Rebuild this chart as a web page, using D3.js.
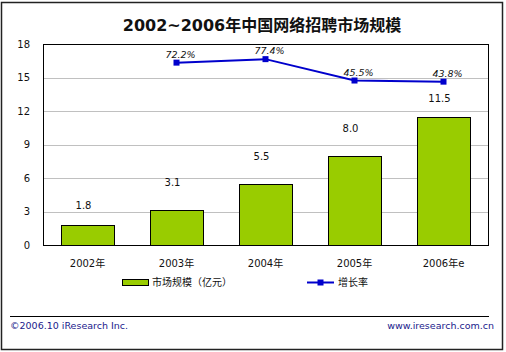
<!DOCTYPE html>
<html>
<head>
<meta charset="utf-8">
<script src="https://cdn.jsdelivr.net/npm/d3@7"></script>
<style>
  body { margin: 0; background: #fff; }
  text { font-family: "DejaVu Sans", "Noto Sans CJK SC", sans-serif; }
</style>
</head>
<body>
<svg id="chart" width="506" height="352"></svg>
<script>
// chart data
const years = ["2002年", "2003年", "2004年", "2005年", "2006年e"];
const marketSize = [1.8, 3.1, 5.5, 8.0, 11.5];
const growthYears = ["2003年", "2004年", "2005年", "2006年e"];
const growthRate = [72.2, 77.4, 45.5, 43.8];
const yTicks = [0, 3, 6, 9, 12, 15, 18];

// value labels sit at slightly different heights in the original
const labelLift = [20, 28, 28, 28, 19];

const svg = d3.select("#chart");
const plotLeft = 43, plotRight = 488, plotTop = 44, plotBottom = 245;

// outer frame
svg.append("rect")
    .attr("x", 1.5).attr("y", 2.5)
    .attr("width", 501).attr("height", 347)
    .attr("fill", "#fff")
    .attr("stroke", "#222")
    .attr("stroke-width", 1.5);

// title
svg.append("text")
    .attr("x", 262).attr("y", 31)
    .attr("text-anchor", "middle")
    .attr("font-size", 16)
    .attr("font-weight", "bold")
    .attr("fill", "#111")
    .text("2002~2006年中国网络招聘市场规模");

const x = d3.scaleBand()
    .domain(years)
    .range([plotLeft, plotRight])
    .paddingInner(0.41)
    .paddingOuter(0.205);

// x center of each category
const xc = d => x(d) + x.bandwidth() / 2;

const y = d3.scaleLinear().domain([0, 18]).range([plotBottom, plotTop]);
// hidden secondary axis for the growth line
const y2 = d3.scaleLinear().domain([-200, 100]).range([plotBottom, plotTop]);

// gridlines
svg.append("g")
    .selectAll("line")
    .data(yTicks.filter(t => t > 0 && t < 18))
    .join("line")
    .attr("x1", plotLeft).attr("x2", plotRight)
    .attr("y1", d => Math.round(y(d)) + 0.5)
    .attr("y2", d => Math.round(y(d)) + 0.5)
    .attr("stroke", "#c0c0c0");

// y axis labels
const yAxis = d3.axisLeft(y).tickValues(yTicks).tickSize(0).tickPadding(13);
const yG = svg.append("g")
    .attr("transform", `translate(${plotLeft},0)`)
    .call(yAxis);
yG.select(".domain").remove();
yG.selectAll("text").attr("font-size", 10).attr("fill", "#111")
    .style("font-family", "DejaVu Sans, sans-serif");

// bars
svg.append("g")
    .selectAll("rect")
    .data(marketSize)
    .join("rect")
    .attr("x", (d, i) => Math.round(x(years[i])) + 0.5)
    .attr("y", d => Math.round(y(d)) + 0.5)
    .attr("width", Math.round(x.bandwidth()))
    .attr("height", d => plotBottom - Math.round(y(d)))
    .attr("fill", "#99cc00")
    .attr("stroke", "#000")
    .attr("stroke-width", 1);

// plot frame
svg.append("rect")
    .attr("x", plotLeft + 0.5).attr("y", plotTop + 0.5)
    .attr("width", plotRight - plotLeft).attr("height", plotBottom - plotTop)
    .attr("fill", "none")
    .attr("stroke", "#000");

// bar value labels
svg.append("g")
    .selectAll("text")
    .data(marketSize)
    .join("text")
    .attr("x", (d, i) => xc(years[i]) - 4)
    .attr("y", (d, i) => y(d) - labelLift[i] + 4)
    .attr("text-anchor", "middle")
    .attr("font-size", 10)
    .attr("fill", "#111")
    .text(d => d.toFixed(1));

// x axis labels
const xAxis = d3.axisBottom(x).tickSize(0).tickPadding(15);
const xG = svg.append("g")
    .attr("transform", `translate(0,${plotBottom})`)
    .call(xAxis);
xG.select(".domain").remove();
xG.selectAll("text").attr("font-size", 10).attr("fill", "#111")
    .style("font-family", "DejaVu Sans, Noto Sans CJK SC, sans-serif");

// growth line
const lineColor = "#0000cc";
const pts = growthRate.map((v, i) => [xc(growthYears[i]), y2(v)]);
svg.append("path")
    .datum(pts)
    .attr("fill", "none")
    .attr("stroke", lineColor)
    .attr("stroke-width", 2)
    .attr("d", d3.line());

svg.append("g")
    .selectAll("rect")
    .data(pts)
    .join("rect")
    .attr("x", d => d[0] - 3).attr("y", d => d[1] - 3)
    .attr("width", 6).attr("height", 6)
    .attr("fill", lineColor);

svg.append("g")
    .selectAll("text")
    .data(growthRate)
    .join("text")
    .attr("x", (d, i) => pts[i][0] + 4)
    .attr("y", (d, i) => pts[i][1] - 5)
    .attr("text-anchor", "middle")
    .attr("font-size", 9.5)
    .attr("font-style", "italic")
    .attr("fill", "#111")
    .text(d => d.toFixed(1) + "%");

// legend
const legend = svg.append("g");
legend.append("rect")
    .attr("x", 122.5).attr("y", 279.5)
    .attr("width", 26).attr("height", 6)
    .attr("fill", "#99cc00").attr("stroke", "#000");
legend.append("text")
    .attr("x", 152).attr("y", 286)
    .attr("font-size", 10).attr("fill", "#111")
    .text("市场规模（亿元）");
legend.append("line")
    .attr("x1", 307).attr("x2", 334)
    .attr("y1", 282.5).attr("y2", 282.5)
    .attr("stroke", lineColor).attr("stroke-width", 2);
legend.append("rect")
    .attr("x", 317.5).attr("y", 279.5)
    .attr("width", 6).attr("height", 6)
    .attr("fill", lineColor);
legend.append("text")
    .attr("x", 338).attr("y", 286)
    .attr("font-size", 10).attr("fill", "#111")
    .text("增长率");

// footer
svg.append("line")
    .attr("x1", 10).attr("x2", 489)
    .attr("y1", 316.5).attr("y2", 316.5)
    .attr("stroke", "#000");
svg.append("text")
    .attr("x", 10).attr("y", 329)
    .attr("font-size", 9.5).attr("fill", "#1a1a8c")
    .text("©2006.10 iResearch Inc.");
svg.append("text")
    .attr("x", 494).attr("y", 329)
    .attr("text-anchor", "end")
    .attr("font-size", 9.5).attr("fill", "#1a1a8c")
    .text("www.iresearch.com.cn");
</script>
</body>
</html>
